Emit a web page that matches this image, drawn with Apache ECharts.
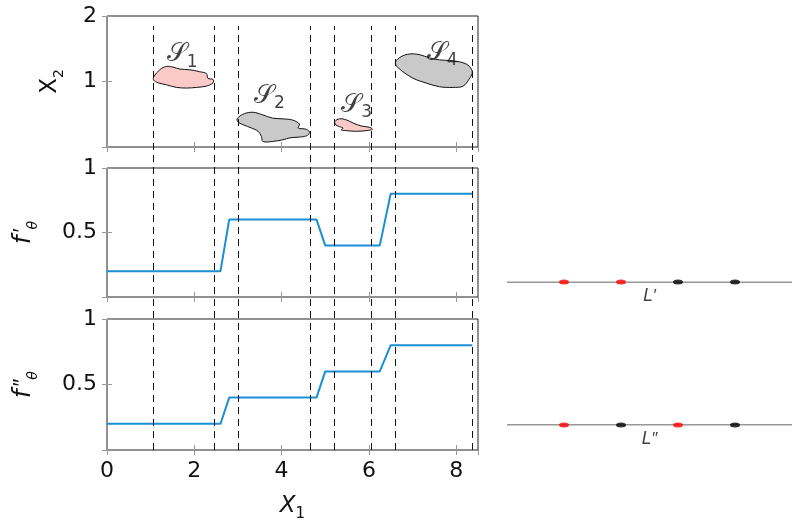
<!DOCTYPE html>
<html>
<head>
<meta charset="utf-8">
<script src="https://cdn.jsdelivr.net/npm/echarts@6/dist/echarts.min.js"></script>
<style>html,body{margin:0;padding:0;background:#fff}#c{width:792px;height:525px}</style>
</head>
<body>
<div id="c"></div>
<script>
// ---- data ----
const xTicks = [0, 2, 4, 6, 8];
const dashedX = [1.05, 2.45, 3.0, 4.65, 5.2, 6.05, 6.6, 8.36];
const stepX = [0, 2.6, 2.8, 4.8, 5.0, 6.25, 6.5, 8.37];
const fPrimeY = [0.2, 0.2, 0.6, 0.6, 0.4, 0.4, 0.8, 0.8];
const fDoubleY = [0.2, 0.2, 0.4, 0.4, 0.6, 0.6, 0.8, 0.8];
const blobS1 = [[1.07,1.07],[1.21,1.18],[1.36,1.23],[1.51,1.22],[1.67,1.19],[1.89,1.18],[2.12,1.15],[2.28,1.12],[2.31,1.05],[2.43,1.03],[2.43,0.98],[2.28,0.93],[2.05,0.91],[1.82,0.90],[1.59,0.91],[1.36,0.95],[1.17,0.98],[1.07,1.02]];
const blobS2 = [[2.99,0.44],[3.15,0.51],[3.35,0.53],[3.57,0.49],[3.80,0.44],[4.03,0.43],[4.26,0.41],[4.41,0.35],[4.38,0.29],[4.57,0.27],[4.64,0.22],[4.57,0.17],[4.38,0.15],[4.19,0.14],[4.03,0.11],[3.80,0.085],[3.57,0.085],[3.54,0.16],[3.46,0.24],[3.31,0.29],[3.12,0.34],[2.99,0.39]];
const blobS3 = [[5.22,0.39],[5.33,0.43],[5.48,0.415],[5.64,0.365],[5.83,0.32],[6.02,0.30],[6.08,0.27],[5.94,0.25],[5.71,0.24],[5.48,0.25],[5.37,0.26],[5.41,0.29],[5.33,0.31],[5.24,0.34]];
const blobS4 = [[6.61,1.30],[6.74,1.38],[6.93,1.42],[7.16,1.41],[7.39,1.36],[7.62,1.33],[7.85,1.32],[8.08,1.30],[8.27,1.25],[8.37,1.15],[8.31,1.05],[8.16,0.93],[7.93,0.91],[7.62,0.92],[7.32,0.975],[7.01,1.05],[6.78,1.15],[6.64,1.23]];
const blobClass = ['pink', 'gray', 'pink', 'gray'];
const blobLabelPos = [[1.72,1.41],[3.72,0.77],[5.72,0.64],[7.68,1.43]];
const blobNames = ['1', '2', '3', '4'];
const dotPos = [1, 2, 3, 4];
const lPrimeClass = ['red', 'red', 'black', 'black'];
const lDoubleClass = ['red', 'black', 'red', 'black'];

// ---- chart ----
const FONT = 'DejaVu Sans';
const PFONT = 'Liberation Sans';
const blobs = [blobS1, blobS2, blobS3, blobS4];
const fillOf = {pink: '#fcc9c9', gray: '#c9c9c9'};
const dotColorOf = {red: '#ff0000', black: '#000000'};
const BLUE = '#1a90d4';

const gridBase = {show: true, borderColor: '#222', borderWidth: 1, backgroundColor: 'transparent'};
const grids = [
  Object.assign({left: 107, width: 371, top: 16, height: 131}, gridBase),
  Object.assign({left: 107, width: 371, top: 168, height: 129}, gridBase),
  Object.assign({left: 107, width: 371, top: 319, height: 131}, gridBase),
  {left: 107, width: 371, top: 26, height: 424},
  {left: 507, width: 285, top: 282, height: 143}
];

const tickStyle = {inside: true, length: 5, lineStyle: {color: '#999', width: 1}};
const noLine = {show: false};
const labelFont = {fontFamily: FONT, fontSize: 22, color: '#111'};

const xAxes = [], yAxes = [];
for (let g = 0; g < 3; g++) {
  xAxes.push({
    gridIndex: g, type: 'value', min: 0, max: 8.5, interval: 2, position: 'bottom',
    axisLine: noLine, axisTick: tickStyle, splitLine: {show: false},
    axisLabel: Object.assign({show: g === 2, margin: 10, showMaxLabel: false}, labelFont),
    name: g === 2 ? '{a|X}{b|1}' : '', nameLocation: 'middle', nameGap: 45,
    nameTextStyle: {rich: {
      a: {fontFamily: FONT, fontSize: 23, fontStyle: 'italic', color: '#111', verticalAlign: 'bottom'},
      b: {fontFamily: FONT, fontSize: 15, color: '#111', verticalAlign: 'bottom', padding: [0, 0, -4, 0]}
    }}
  });
  xAxes.push({
    gridIndex: g, type: 'value', min: 0, max: 8.5, interval: 2, position: 'top',
    axisLine: noLine, axisTick: tickStyle, splitLine: {show: false},
    axisLabel: {show: false}
  });
}
const yNames = [
  {name: '{a|X}{b|2}', gap: 45},
  {name: '{f|f}{p|′}{t|θ}', gap: 71},
  {name: '{f|f}{p|″}{t|θ}', gap: 71}
];
const yRich = {
  a: {fontFamily: FONT, fontSize: 23, color: '#111', verticalAlign: 'bottom'},
  b: {fontFamily: FONT, fontSize: 14, color: '#111', verticalAlign: 'bottom', padding: [0, 0, -4, 0]},
  f: {fontFamily: FONT, fontSize: 24, fontStyle: 'italic', color: '#111', verticalAlign: 'bottom'},
  p: {fontFamily: PFONT, fontSize: 22, fontStyle: 'italic', color: '#111', verticalAlign: 'bottom', padding: [0, 0, 3, 2]},
  t: {fontFamily: FONT, fontSize: 14, fontStyle: 'italic', color: '#111', verticalAlign: 'bottom', padding: [0, 0, -4, 0]}
};
for (let g = 0; g < 3; g++) {
  const top = g === 0;
  yAxes.push({
    gridIndex: g, type: 'value', min: 0, max: top ? 2 : 1, interval: top ? 1 : 0.5, position: 'left',
    axisLine: noLine, axisTick: tickStyle, splitLine: {show: false},
    axisLabel: Object.assign({margin: 10, showMinLabel: false, formatter: v => String(v)}, labelFont),
    name: yNames[g].name, nameLocation: 'middle', nameRotate: 90, nameGap: yNames[g].gap,
    nameTextStyle: {rich: yRich}
  });
  yAxes.push({
    gridIndex: g, type: 'value', min: 0, max: top ? 2 : 1, interval: top ? 1 : 0.5, position: 'right',
    axisLine: noLine, axisTick: tickStyle, splitLine: {show: false},
    axisLabel: {show: false}
  });
}
// dashed overlay grid (index 6 / 6)
xAxes.push({gridIndex: 3, type: 'value', min: 0, max: 8.5, show: false});
yAxes.push({gridIndex: 3, type: 'value', min: 0, max: 1, show: false});
// right-side line grid (index 7 / 7)
xAxes.push({gridIndex: 4, type: 'value', min: 0, max: 5, show: false});
yAxes.push({gridIndex: 4, type: 'value', min: 0, max: 1, show: false});

const series = [];
// blobs
series.push({
  type: 'custom', xAxisIndex: 0, yAxisIndex: 0, z: 2,
  data: blobs.map((b, i) => [i]),
  renderItem: function (params, api) {
    const i = api.value(0);
    const pts = blobs[i].map(p => api.coord(p));
    return {
      type: 'polygon',
      shape: {points: pts, smooth: 0.35},
      style: {fill: fillOf[blobClass[i]], stroke: '#111', lineWidth: 1}
    };
  }
});
// blob labels
series.push({
  type: 'scatter', xAxisIndex: 0, yAxisIndex: 0, symbolSize: 0, z: 5,
  data: blobLabelPos.map((p, i) => ({value: p, name: blobNames[i]})),
  label: {
    show: true, position: 'inside',
    formatter: p => '{s|𝒮}{n|' + p.name + '}',
    rich: {
      s: {fontFamily: FONT, fontSize: 26, color: '#111', verticalAlign: 'bottom'},
      n: {fontFamily: FONT, fontSize: 17, color: '#111', verticalAlign: 'bottom', padding: [0, 0, -3, 0]}
    }
  }
});
// step lines
const stepSeries = [fPrimeY, fDoubleY];
stepSeries.forEach((ys, k) => {
  series.push({
    type: 'line', xAxisIndex: 2 + 2 * k, yAxisIndex: 2 + 2 * k, z: 3,
    data: stepX.map((x, i) => [x, ys[i]]),
    showSymbol: false, symbol: 'none',
    lineStyle: {color: BLUE, width: 2}
  });
});
// dashed vertical lines
series.push({
  type: 'lines', coordinateSystem: 'cartesian2d', xAxisIndex: 6, yAxisIndex: 6, z: 4,
  data: dashedX.map(x => ({coords: [[x, 0], [x, 1]]})),
  lineStyle: {color: '#111', width: 1, type: [7, 5], opacity: 1}
});
// right lines L', L''
const lLines = [{y: 1, cls: lPrimeClass, label: '{l|L}{p|′}'}, {y: 0, cls: lDoubleClass, label: '{l|L}{p|″}'}];
lLines.forEach(L => {
  series.push({
    type: 'line', xAxisIndex: 7, yAxisIndex: 7, symbol: 'none', z: 2,
    data: [[0, L.y], [5, L.y]],
    lineStyle: {color: '#333', width: 1}
  });
  series.push({
    type: 'scatter', xAxisIndex: 7, yAxisIndex: 7, symbol: 'circle', symbolSize: [10, 5], z: 3,
    data: dotPos.map((x, i) => ({value: [x, L.y], itemStyle: {color: dotColorOf[L.cls[i]]}}))
  });
  series.push({
    type: 'scatter', xAxisIndex: 7, yAxisIndex: 7, symbolSize: 0, z: 3,
    data: [{value: [2.5, L.y], name: L.label}],
    label: {show: true, position: 'bottom', distance: 6, formatter: p => p.name,
      rich: {
        l: {fontFamily: FONT, fontSize: 17, fontStyle: 'italic', color: '#111', verticalAlign: 'bottom'},
        p: {fontFamily: PFONT, fontSize: 17, fontStyle: 'italic', color: '#111', verticalAlign: 'bottom'}
      }}
  });
});

const chart = echarts.init(document.getElementById('c'), null, {renderer: 'canvas'});
chart.setOption({
  animation: false,
  grid: grids,
  xAxis: xAxes,
  yAxis: yAxes,
  series: series
});
</script>
</body>
</html>
